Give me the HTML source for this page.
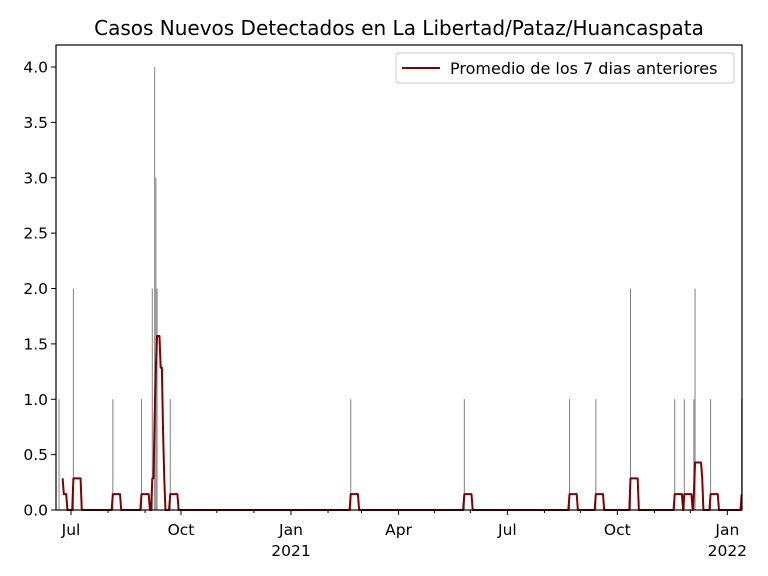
<!DOCTYPE html>
<html><head><meta charset="utf-8"><style>
html,body{margin:0;padding:0;background:#fff;}
svg{display:block;font-family:"DejaVu Sans","Liberation Sans",sans-serif;}
</style></head><body>
<svg id="chart" width="768" height="576" viewBox="0 0 768 576">
<text x="399" y="35" text-anchor="middle" font-size="20">Casos Nuevos Detectados en La Libertad/Pataz/Huancaspata</text>
<g id="bars"></g>
<g id="line"></g>
<g id="axes"></g>
<g>
<rect x="396" y="53" width="338" height="30" rx="3" fill="#fff" fill-opacity="0.8" stroke="#ccc"/>
<line x1="402" y1="68" x2="440" y2="68" stroke="#800000" stroke-width="2"/>
<text x="450" y="74" font-size="16">Promedio de los 7 dias anteriores</text>
</g>
</svg>
<script>
// day offsets from 2020-07-01 and daily new cases
const caseDays = [-13, -10, 2, 35, 59, 68, 70, 71, 72, 83, 234, 329, 417, 439, 468, 505, 513, 521, 522, 535, 561];
const caseValues = [1, 1, 2, 1, 1, 2, 4, 3, 2, 1, 1, 1, 1, 1, 2, 1, 1, 1, 2, 1, 1];
const yTicks = [0, 0.5, 1, 1.5, 2, 2.5, 3, 3.5, 4];
const yTickLabels = ["0.0","0.5","1.0","1.5","2.0","2.5","3.0","3.5","4.0"];
const xTickDays = [0, 92, 184, 274, 365, 457, 549];
const xTickLabels = ["Jul", "Oct", "Jan\n2021", "Apr", "Jul", "Oct", "Jan\n2022"];
const minorDays = [31, 62, 122, 153, 215, 243, 304, 334, 396, 426, 488, 518];
const startDay = -13, endDay = 561;

const NS = "http://www.w3.org/2000/svg";
const L = 56, R = 742, T = 45, B = 510;
const x = d => 71 + d * 1.1955;
const y = v => B - v * 110.75;
function mk(tag, attrs, parent) {
  const e = document.createElementNS(NS, tag);
  for (const k in attrs) e.setAttribute(k, attrs[k]);
  parent.appendChild(e);
  return e;
}
const bars = document.getElementById('bars');
caseDays.forEach((d, i) => {
  if (x(d) < L) return;
  const r = mk('rect', {x: x(d) - 0.5, y: y(caseValues[i]), width: 1, height: B - y(caseValues[i]), fill: '#808080'}, bars);
  
  
});
// rolling 7-day mean
const daily = {};
caseDays.forEach((d, i) => daily[d] = caseValues[i]);
const pts = [];
for (let d = startDay + 6; d <= endDay; d++) {
  let s = 0;
  for (let k = d - 6; k <= d; k++) s += daily[k] || 0;
  pts.push(x(d).toFixed(2) + ',' + y(s / 7).toFixed(2));
}
const pl = mk('polyline', {points: pts.join(' '), fill: 'none', stroke: '#800000', 'stroke-width': 2, 'stroke-linejoin': 'round'}, document.getElementById('line'));



const ax = document.getElementById('axes');
const frame = mk('rect', {x: L, y: T, width: R - L, height: B - T, fill: 'none', stroke: '#000', 'stroke-width': 1.2}, ax);


yTicks.forEach((v, i) => {
  mk('line', {x1: L - 5, x2: L, y1: y(v), y2: y(v), stroke: '#000'}, ax);
  const t = mk('text', {x: L - 8, y: y(v) + 5.5, 'text-anchor': 'end', 'font-size': 15.5}, ax);
  t.textContent = yTickLabels[i];
  
  
});
minorDays.forEach(d => mk('line', {x1: x(d), x2: x(d), y1: B, y2: B + 3, stroke: '#000'}, ax));
xTickDays.forEach((d, i) => {
  mk('line', {x1: x(d), x2: x(d), y1: B, y2: B + 5, stroke: '#000'}, ax);
  xTickLabels[i].split('\n').forEach((s, j) => {
    const t = mk('text', {x: x(d), y: B + 25 + j * 21, 'text-anchor': 'middle', 'font-size': 15.5}, ax);
    t.textContent = s;
    
    
  });
});
</script>
</body></html>
